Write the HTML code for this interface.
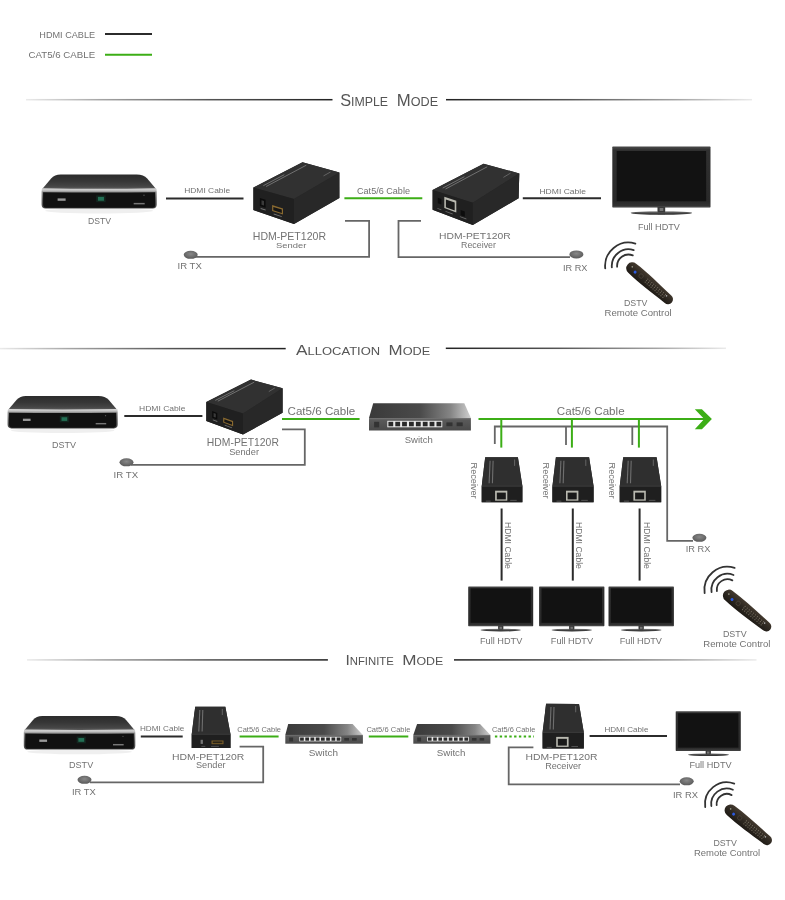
<!DOCTYPE html>
<html><head><meta charset="utf-8"><title>HDMI Extender Modes</title>
<style>html,body{margin:0;padding:0;background:#fff;width:785px;height:900px;overflow:hidden;position:relative;font-family:"Liberation Sans",sans-serif}</style>
</head><body>
<svg width="785" height="900" viewBox="0 0 785 900" style="position:absolute;left:0;top:0;will-change:transform">
<defs>
<linearGradient id="dtop" x1="0" x2="0" y1="0" y2="1"><stop offset="0" stop-color="#2c2c2c"/><stop offset="0.45" stop-color="#363636"/><stop offset="0.8" stop-color="#454545"/><stop offset="1" stop-color="#5e5e5e"/></linearGradient>
<linearGradient id="dband" x1="0" x2="0" y1="0" y2="1"><stop offset="0" stop-color="#d8d8d8"/><stop offset="0.1" stop-color="#c4c4c4"/><stop offset="0.2" stop-color="#8a8a8a"/><stop offset="0.6" stop-color="#5a5a5a"/><stop offset="1" stop-color="#444"/></linearGradient>
<linearGradient id="tvframe" x1="0" x2="0" y1="0" y2="1"><stop offset="0" stop-color="#4a4a4a"/><stop offset="0.06" stop-color="#303030"/><stop offset="0.9" stop-color="#292929"/><stop offset="1" stop-color="#353535"/></linearGradient>
<linearGradient id="tvbase" x1="0" x2="0" y1="0" y2="1"><stop offset="0" stop-color="#9a9a9a"/><stop offset="0.45" stop-color="#4a4a4a"/><stop offset="1" stop-color="#2a2a2a"/></linearGradient>
<linearGradient id="swtop" x1="0" x2="1" y1="0" y2="0"><stop offset="0" stop-color="#3a3a3a"/><stop offset="0.5" stop-color="#4a4a4a"/><stop offset="0.8" stop-color="#858585"/><stop offset="1" stop-color="#cfcfcf"/></linearGradient>
<linearGradient id="swfront" x1="0" x2="0" y1="0" y2="1"><stop offset="0" stop-color="#777"/><stop offset="0.15" stop-color="#5a5a5a"/><stop offset="1" stop-color="#4a4a4a"/></linearGradient>
<radialGradient id="blobg" cx="0.5" cy="0.4" r="0.6"><stop offset="0" stop-color="#888"/><stop offset="1" stop-color="#5a5a5a"/></radialGradient>
<linearGradient id="remg" x1="0" x2="0" y1="0" y2="1"><stop offset="0" stop-color="#453b30"/><stop offset="0.5" stop-color="#2e2821"/><stop offset="1" stop-color="#1e1a15"/></linearGradient>
</defs>
<rect width="785" height="900" fill="#fff"/>
<g font-family='"Liberation Sans", sans-serif'>
<text x="39.3" y="38.3" font-size="8.72" fill="#727272" textLength="55.8" lengthAdjust="spacingAndGlyphs" >HDMI CABLE</text>
<text x="28.6" y="57.8" font-size="9.01" fill="#727272" textLength="66.5" lengthAdjust="spacingAndGlyphs" >CAT5/6 CABLE</text>
<line x1="105.0" y1="34.1" x2="152.0" y2="34.1" stroke="#2b2b2b" stroke-width="2"/>
<line x1="105.0" y1="54.8" x2="152.0" y2="54.8" stroke="#3cae16" stroke-width="2"/>
<linearGradient id="g17" x1="26" x2="332.5" y1="0" y2="0" gradientUnits="userSpaceOnUse"><stop offset="0" stop-color="#333" stop-opacity="0.1"/><stop offset="0.25" stop-color="#333" stop-opacity="0.45"/><stop offset="0.6" stop-color="#2a2a2a" stop-opacity="0.8"/><stop offset="1" stop-color="#222" stop-opacity="1"/></linearGradient>
<rect x="26.0" y="98.95" width="306.5" height="1.5" fill="url(#g17)"/>
<linearGradient id="g19" x1="446" x2="752" y1="0" y2="0" gradientUnits="userSpaceOnUse"><stop offset="0" stop-color="#222" stop-opacity="1"/><stop offset="0.4" stop-color="#2a2a2a" stop-opacity="0.8"/><stop offset="0.75" stop-color="#333" stop-opacity="0.45"/><stop offset="1" stop-color="#333" stop-opacity="0.1"/></linearGradient>
<rect x="446.0" y="98.95" width="306.0" height="1.5" fill="url(#g19)"/>
<text x="340.2" y="105.5" fill="#555555" textLength="47.9" lengthAdjust="spacingAndGlyphs"><tspan font-size="15.99">S</tspan><tspan font-size="12.06">IMPLE</tspan></text>
<text x="396.8" y="105.5" fill="#555555" textLength="41.3" lengthAdjust="spacingAndGlyphs"><tspan font-size="15.99">M</tspan><tspan font-size="12.06">ODE</tspan></text>
<g transform="translate(41.6,174.6) scale(1.0009,1.0000)">
<ellipse cx="57.5" cy="36.2" rx="54" ry="2.6" fill="#efefef"/>
<path d="M19,0 L95,0 Q102,0 105.5,4 L114.6,14.6 L0.4,14.6 L9.5,4 Q13,0 19,0 Z" fill="url(#dtop)"/>
<path d="M0.6,13.6 Q57.5,14.6 114.4,13.6 Q115,14.5 115,17 L115,30 Q115,34 111,34 L4,34 Q0,34 0,30 L0,17 Q0,14.5 0.6,13.6 Z" fill="url(#dband)"/>
<path d="M1.5,17.6 Q57.5,18.3 113.5,17.6 L113.5,30 Q113.5,33.2 110.5,33.2 L4.5,33.2 Q1.5,33.2 1.5,30 Z" fill="#111"/>
<rect x="54.5" y="20.8" width="9.5" height="6.8" fill="#13261f"/>
<rect x="56.3" y="22.3" width="6" height="3.8" fill="#2a8a68" opacity="0.75"/>
<rect x="16" y="23.8" width="8" height="2.4" fill="#9a9a9a"/>
<rect x="92" y="28.3" width="11" height="1.5" fill="#777"/>
<circle cx="102.3" cy="20.6" r="0.7" fill="#555"/>
</g>
<text x="88.0" y="224.0" font-size="9.45" fill="#727272" textLength="23.0" lengthAdjust="spacingAndGlyphs" >DSTV</text>
<line x1="166.0" y1="198.6" x2="243.5" y2="198.6" stroke="#2b2b2b" stroke-width="2"/>
<text x="184.2" y="193.4" font-size="7.70" fill="#727272" textLength="45.9" lengthAdjust="spacingAndGlyphs" >HDMI Cable</text>
<polygon points="253.4,187.6 302.5,162.2 339.4,172.5 339.4,198.0 294.0,224.0 253.4,210.0" fill="#262626" />
<polygon points="253.4,187.6 302.5,162.2 339.4,172.5 294.0,199.0" fill="#313131" />
<polygon points="253.4,187.6 294.0,199.0 294.0,224.0 253.4,210.0" fill="#202020" />
<polygon points="294.0,199.0 339.4,172.5 339.4,198.0 294.0,224.0" fill="#282828" />
<line x1="263.3" y1="185.7" x2="284.3" y2="174.7" stroke="#8a8a8a" stroke-width="0.9" opacity="0.8"/>
<line x1="266.1" y1="186.5" x2="306.3" y2="165.2" stroke="#8a8a8a" stroke-width="0.9" opacity="0.8"/>
<line x1="323.5" y1="175.9" x2="330.5" y2="172.0" stroke="#777" stroke-width="0.9" opacity="0.8"/>
<polygon points="259.9,198.1 265.6,199.8 265.6,207.7 259.9,205.9" fill="#0b0b0b" />
<polygon points="261.5,200.2 264.0,200.9 264.0,205.6 261.5,204.8" fill="#3a3a3a" />
<polygon points="272.1,205.1 283.0,208.6 283.0,214.6 272.1,211.0" fill="#8a6a30" />
<polygon points="273.3,206.9 281.8,209.6 281.8,213.0 273.3,210.2" fill="#151515" />
<polygon points="260.7,207.9 265.6,209.6 265.6,210.5 260.7,208.9" fill="#777" />
<polygon points="273.7,213.4 281.8,216.2 281.8,217.1 273.7,214.4" fill="#777" />
<text x="252.8" y="239.8" font-size="10.17" fill="#727272" textLength="73.2" lengthAdjust="spacingAndGlyphs" >HDM-PET120R</text>
<text x="276.0" y="248.4" font-size="7.85" fill="#727272" textLength="30.3" lengthAdjust="spacingAndGlyphs" >Sender</text>
<line x1="344.4" y1="198.3" x2="422.3" y2="198.3" stroke="#3cae16" stroke-width="2"/>
<text x="357.0" y="194.0" font-size="8.14" fill="#727272" textLength="53.0" lengthAdjust="spacingAndGlyphs" >Cat5/6 Cable</text>
<polygon points="432.6,190.0 483.6,163.8 519.3,173.4 518.6,198.2 472.8,225.0 432.6,209.7" fill="#262626" />
<polygon points="432.6,190.0 483.6,163.8 519.3,173.4 472.8,202.7" fill="#313131" />
<polygon points="432.6,190.0 472.8,202.7 472.8,225.0 432.6,209.7" fill="#202020" />
<polygon points="472.8,202.7 519.3,173.4 518.6,198.2 472.8,225.0" fill="#282828" />
<line x1="442.7" y1="188.1" x2="464.4" y2="176.7" stroke="#8a8a8a" stroke-width="0.9" opacity="0.8"/>
<line x1="445.5" y1="189.0" x2="487.2" y2="166.8" stroke="#8a8a8a" stroke-width="0.9" opacity="0.8"/>
<line x1="503.4" y1="177.4" x2="510.5" y2="173.1" stroke="#777" stroke-width="0.9" opacity="0.8"/>
<polygon points="444.3,196.8 456.3,200.7 456.3,212.4 444.3,208.0" fill="#b9b9b0" />
<polygon points="445.9,199.5 454.7,202.5 454.7,210.5 445.9,207.3" fill="#1a1a1a" />
<polygon points="437.8,197.7 441.4,198.9 441.4,204.6 437.8,203.3" fill="#0d0d0d" />
<polygon points="460.7,210.1 464.8,211.5 464.8,216.7 460.7,215.2" fill="#0d0d0d" />
<polygon points="437.4,207.9 441.4,209.4 441.4,210.2 437.4,208.7" fill="#6a6a6a" />
<polygon points="445.5,210.9 452.7,213.6 452.7,214.4 445.5,211.7" fill="#6a6a6a" />
<polygon points="459.9,216.2 466.4,218.6 466.4,219.5 459.9,217.1" fill="#6a6a6a" />
<text x="439.0" y="238.7" font-size="9.59" fill="#727272" textLength="71.7" lengthAdjust="spacingAndGlyphs" >HDM-PET120R</text>
<text x="461.0" y="248.0" font-size="8.14" fill="#727272" textLength="35.0" lengthAdjust="spacingAndGlyphs" >Receiver</text>
<line x1="522.8" y1="198.3" x2="601.0" y2="198.3" stroke="#2b2b2b" stroke-width="2"/>
<text x="539.4" y="193.5" font-size="7.99" fill="#727272" textLength="46.6" lengthAdjust="spacingAndGlyphs" >HDMI Cable</text>
<rect x="612.3" y="146.6" width="98.2" height="60.8" fill="url(#tvframe)" rx="0.6"/>
<rect x="616.7" y="151.0" width="89.4" height="50.2" fill="#121212"/>
<rect x="613.3" y="206.3" width="96.2" height="0.7" fill="#555" opacity="0.7"/>
<rect x="657.7" y="206.9" width="7.4" height="7.4" fill="#3a3a3a"/>
<ellipse cx="661.4" cy="213.0" rx="30.8" ry="1.8" fill="url(#tvbase)"/>
<rect x="657.7" y="206.9" width="7.4" height="5.6" fill="#3a3a3a"/>
<rect x="659.6" y="208.0" width="3.7" height="3.0" fill="#777"/>
<text x="637.9" y="229.6" font-size="8.14" fill="#727272" textLength="42.0" lengthAdjust="spacingAndGlyphs" >Full HDTV</text>
<path d="M345,220.8 L369.1,220.8 L369.1,256.8 L195,256.8" stroke="#666666" stroke-width="1.8" fill="none" stroke-linejoin="miter"/>
<ellipse cx="190.7" cy="254.8" rx="7" ry="4" fill="url(#blobg)"/>
<text x="177.5" y="269.4" font-size="9.30" fill="#727272" textLength="24.3" lengthAdjust="spacingAndGlyphs" >IR TX</text>
<path d="M421,220.8 L398.5,220.8 L398.5,257.1 L570,257.1" stroke="#666666" stroke-width="1.8" fill="none" stroke-linejoin="miter"/>
<ellipse cx="576.4" cy="254.4" rx="7" ry="4" fill="url(#blobg)"/>
<text x="563.0" y="270.8" font-size="9.01" fill="#727272" textLength="24.5" lengthAdjust="spacingAndGlyphs" >IR RX</text>
<path d="M605.23,268.45 A23.4,23.4 0 0 1 635.34,243.62" stroke="#333" stroke-width="1.8" fill="none" stroke-linecap="round"/>
<path d="M611.86,267.46 A16.7,16.7 0 0 1 633.66,250.12" stroke="#333" stroke-width="1.8" fill="none" stroke-linecap="round"/>
<path d="M617.13,266.80 A11.4,11.4 0 0 1 632.77,255.43" stroke="#333" stroke-width="1.8" fill="none" stroke-linecap="round"/>
<g transform="translate(632.2,268.3) rotate(40.80)">
<path d="M0,-6.00 C14.2,-6.90 30.7,-5.60 47.3,-5.00 A5.00,5.00 0 0 1 47.3,5.00 C30.7,5.60 14.2,6.90 0,6.00 A6.00,6.00 0 0 1 0,-6.00 Z" fill="url(#remg)"/>
<circle cx="4.7" cy="1.0" r="1.5" fill="#2b5ae0"/>
<circle cx="-0.9" cy="-1.2" r="0.8" fill="#9a9a8a"/>
<circle cx="11.8" cy="0" r="2.2" fill="none" stroke="#4a4238" stroke-width="0.8"/>
<circle cx="18.9" cy="-2.0" r="0.6" fill="#7a7264" opacity="0.9"/>
<circle cx="18.9" cy="0.0" r="0.6" fill="#7a7264" opacity="0.9"/>
<circle cx="18.9" cy="2.0" r="0.6" fill="#7a7264" opacity="0.9"/>
<circle cx="21.5" cy="-2.0" r="0.6" fill="#7a7264" opacity="0.9"/>
<circle cx="21.5" cy="0.0" r="0.6" fill="#7a7264" opacity="0.9"/>
<circle cx="21.5" cy="2.0" r="0.6" fill="#7a7264" opacity="0.9"/>
<circle cx="24.1" cy="-2.0" r="0.6" fill="#7a7264" opacity="0.9"/>
<circle cx="24.1" cy="0.0" r="0.6" fill="#7a7264" opacity="0.9"/>
<circle cx="24.1" cy="2.0" r="0.6" fill="#7a7264" opacity="0.9"/>
<circle cx="26.7" cy="-2.0" r="0.6" fill="#7a7264" opacity="0.9"/>
<circle cx="26.7" cy="0.0" r="0.6" fill="#7a7264" opacity="0.9"/>
<circle cx="26.7" cy="2.0" r="0.6" fill="#7a7264" opacity="0.9"/>
<circle cx="29.3" cy="-2.0" r="0.6" fill="#7a7264" opacity="0.9"/>
<circle cx="29.3" cy="0.0" r="0.6" fill="#7a7264" opacity="0.9"/>
<circle cx="29.3" cy="2.0" r="0.6" fill="#7a7264" opacity="0.9"/>
<circle cx="31.9" cy="-2.0" r="0.6" fill="#7a7264" opacity="0.9"/>
<circle cx="31.9" cy="0.0" r="0.6" fill="#7a7264" opacity="0.9"/>
<circle cx="31.9" cy="2.0" r="0.6" fill="#7a7264" opacity="0.9"/>
<circle cx="34.5" cy="-2.0" r="0.6" fill="#7a7264" opacity="0.9"/>
<circle cx="34.5" cy="0.0" r="0.6" fill="#7a7264" opacity="0.9"/>
<circle cx="34.5" cy="2.0" r="0.6" fill="#7a7264" opacity="0.9"/>
<circle cx="37.1" cy="-2.0" r="0.6" fill="#7a7264" opacity="0.9"/>
<circle cx="37.1" cy="0.0" r="0.6" fill="#7a7264" opacity="0.9"/>
<circle cx="37.1" cy="2.0" r="0.6" fill="#7a7264" opacity="0.9"/>
<circle cx="39.7" cy="-2.0" r="0.6" fill="#7a7264" opacity="0.9"/>
<circle cx="39.7" cy="0.0" r="0.6" fill="#7a7264" opacity="0.9"/>
<circle cx="39.7" cy="2.0" r="0.6" fill="#7a7264" opacity="0.9"/>
<circle cx="42.3" cy="-2.0" r="0.6" fill="#7a7264" opacity="0.9"/>
<circle cx="42.3" cy="0.0" r="0.6" fill="#7a7264" opacity="0.9"/>
<circle cx="42.3" cy="2.0" r="0.6" fill="#7a7264" opacity="0.9"/>
<circle cx="44.0" cy="-1.6" r="0.8" fill="#aaa"/>
</g>
<text x="624.0" y="306.4" font-size="9.01" fill="#727272" textLength="23.5" lengthAdjust="spacingAndGlyphs" >DSTV</text>
<text x="604.5" y="316.0" font-size="8.43" fill="#727272" textLength="67.1" lengthAdjust="spacingAndGlyphs" >Remote Control</text>
<linearGradient id="g128" x1="0" x2="285.7" y1="0" y2="0" gradientUnits="userSpaceOnUse"><stop offset="0" stop-color="#333" stop-opacity="0.1"/><stop offset="0.25" stop-color="#333" stop-opacity="0.45"/><stop offset="0.6" stop-color="#2a2a2a" stop-opacity="0.8"/><stop offset="1" stop-color="#222" stop-opacity="1"/></linearGradient>
<rect x="0.0" y="347.85" width="285.7" height="1.5" fill="url(#g128)"/>
<linearGradient id="g130" x1="445.8" x2="726" y1="0" y2="0" gradientUnits="userSpaceOnUse"><stop offset="0" stop-color="#222" stop-opacity="1"/><stop offset="0.4" stop-color="#2a2a2a" stop-opacity="0.8"/><stop offset="0.75" stop-color="#333" stop-opacity="0.45"/><stop offset="1" stop-color="#333" stop-opacity="0.1"/></linearGradient>
<rect x="445.8" y="347.55" width="280.2" height="1.5" fill="url(#g130)"/>
<text x="296.1" y="354.9" fill="#555555" textLength="84.1" lengthAdjust="spacingAndGlyphs"><tspan font-size="15.26">A</tspan><tspan font-size="11.48">LLOCATION</tspan></text>
<text x="388.6" y="354.9" fill="#555555" textLength="41.7" lengthAdjust="spacingAndGlyphs"><tspan font-size="15.26">M</tspan><tspan font-size="11.48">ODE</tspan></text>
<g transform="translate(7.6,396.0) scale(0.9574,0.9529)">
<ellipse cx="57.5" cy="36.2" rx="54" ry="2.6" fill="#efefef"/>
<path d="M19,0 L95,0 Q102,0 105.5,4 L114.6,14.6 L0.4,14.6 L9.5,4 Q13,0 19,0 Z" fill="url(#dtop)"/>
<path d="M0.6,13.6 Q57.5,14.6 114.4,13.6 Q115,14.5 115,17 L115,30 Q115,34 111,34 L4,34 Q0,34 0,30 L0,17 Q0,14.5 0.6,13.6 Z" fill="url(#dband)"/>
<path d="M1.5,17.6 Q57.5,18.3 113.5,17.6 L113.5,30 Q113.5,33.2 110.5,33.2 L4.5,33.2 Q1.5,33.2 1.5,30 Z" fill="#111"/>
<rect x="54.5" y="20.8" width="9.5" height="6.8" fill="#13261f"/>
<rect x="56.3" y="22.3" width="6" height="3.8" fill="#2a8a68" opacity="0.75"/>
<rect x="16" y="23.8" width="8" height="2.4" fill="#9a9a9a"/>
<rect x="92" y="28.3" width="11" height="1.5" fill="#777"/>
<circle cx="102.3" cy="20.6" r="0.7" fill="#555"/>
</g>
<text x="52.0" y="447.5" font-size="9.16" fill="#727272" textLength="24.0" lengthAdjust="spacingAndGlyphs" >DSTV</text>
<line x1="124.3" y1="416.0" x2="202.4" y2="416.0" stroke="#2b2b2b" stroke-width="2"/>
<text x="139.0" y="411.0" font-size="7.99" fill="#727272" textLength="46.5" lengthAdjust="spacingAndGlyphs" >HDMI Cable</text>
<polygon points="206.3,402.0 251.0,379.6 282.6,388.2 282.6,412.8 243.0,434.6 206.3,420.9" fill="#262626" />
<polygon points="206.3,402.0 251.0,379.6 282.6,388.2 243.0,413.4" fill="#313131" />
<polygon points="206.3,402.0 243.0,413.4 243.0,434.6 206.3,420.9" fill="#202020" />
<polygon points="243.0,413.4 282.6,388.2 282.6,412.8 243.0,434.6" fill="#282828" />
<line x1="215.3" y1="400.4" x2="234.3" y2="390.7" stroke="#8a8a8a" stroke-width="0.9" opacity="0.8"/>
<line x1="217.8" y1="401.2" x2="254.2" y2="382.2" stroke="#8a8a8a" stroke-width="0.9" opacity="0.8"/>
<line x1="268.8" y1="391.6" x2="274.9" y2="387.9" stroke="#777" stroke-width="0.9" opacity="0.8"/>
<polygon points="212.2,411.1 217.3,412.9 217.3,419.5 212.2,417.7" fill="#0b0b0b" />
<polygon points="213.6,413.0 215.8,413.7 215.8,417.6 213.6,416.9" fill="#3a3a3a" />
<polygon points="223.2,417.6 233.1,421.0 233.1,426.2 223.2,422.6" fill="#8a6a30" />
<polygon points="224.3,419.2 232.0,421.9 232.0,424.7 224.3,422.0" fill="#151515" />
<polygon points="212.9,419.5 217.3,421.1 217.3,421.9 212.9,420.3" fill="#777" />
<polygon points="224.7,424.7 232.0,427.4 232.0,428.2 224.7,425.5" fill="#777" />
<text x="206.8" y="445.7" font-size="10.03" fill="#727272" textLength="72.1" lengthAdjust="spacingAndGlyphs" >HDM-PET120R</text>
<text x="229.2" y="454.6" font-size="8.43" fill="#727272" textLength="29.8" lengthAdjust="spacingAndGlyphs" >Sender</text>
<line x1="282.0" y1="419.0" x2="359.6" y2="419.0" stroke="#3cae16" stroke-width="2"/>
<text x="287.5" y="414.6" font-size="10.03" fill="#727272" textLength="67.8" lengthAdjust="spacingAndGlyphs" >Cat5/6 Cable</text>
<path d="M282,429.4 L304.8,429.4 L304.8,464.8 L131,464.8" stroke="#666666" stroke-width="1.8" fill="none" stroke-linejoin="miter"/>
<ellipse cx="126.5" cy="462.3" rx="7" ry="4" fill="url(#blobg)"/>
<text x="113.6" y="477.5" font-size="9.30" fill="#727272" textLength="24.6" lengthAdjust="spacingAndGlyphs" >IR TX</text>
<polygon points="373.2,403.2 464.3,403.2 470.9,418.0 369.0,418.0" fill="url(#swtop)"/>
<rect x="369.0" y="418.0" width="101.9" height="12.5" fill="url(#swfront)"/>
<rect x="387.3" y="420.8" width="55.0" height="6.5" fill="#e8e8e8"/>
<rect x="388.4" y="421.8" width="4.8" height="4.5" fill="#2a2a2a"/>
<rect x="395.3" y="421.8" width="4.8" height="4.5" fill="#2a2a2a"/>
<rect x="402.1" y="421.8" width="4.8" height="4.5" fill="#2a2a2a"/>
<rect x="409.0" y="421.8" width="4.8" height="4.5" fill="#2a2a2a"/>
<rect x="415.9" y="421.8" width="4.8" height="4.5" fill="#2a2a2a"/>
<rect x="422.8" y="421.8" width="4.8" height="4.5" fill="#2a2a2a"/>
<rect x="429.6" y="421.8" width="4.8" height="4.5" fill="#2a2a2a"/>
<rect x="436.5" y="421.8" width="4.8" height="4.5" fill="#2a2a2a"/>
<rect x="446.4" y="422.4" width="6.1" height="3.8" fill="#333"/>
<rect x="456.6" y="422.4" width="6.1" height="3.8" fill="#333"/>
<rect x="374.1" y="421.8" width="5.1" height="5.6" fill="#333"/>
<text x="404.7" y="443.0" font-size="9.01" fill="#727272" textLength="28.1" lengthAdjust="spacingAndGlyphs" >Switch</text>
<line x1="478.5" y1="418.9" x2="705.0" y2="418.9" stroke="#3cae16" stroke-width="2"/>
<polygon points="694.8,409.2 701.9,409.2 711.9,419.1 701.9,429.3 694.8,429.3 704.2,419.1" fill="#3cae16" />
<text x="556.8" y="414.9" font-size="10.32" fill="#727272" textLength="67.8" lengthAdjust="spacingAndGlyphs" >Cat5/6 Cable</text>
<path d="M494.8,444 L494.8,426.5 L667.2,426.5 L667.2,540.8 L693,540.8" stroke="#666666" stroke-width="1.8" fill="none" stroke-linejoin="miter"/>
<line x1="566.0" y1="426.5" x2="566.0" y2="445.0" stroke="#666666" stroke-width="1.8"/>
<line x1="632.3" y1="426.5" x2="632.3" y2="445.0" stroke="#666666" stroke-width="1.8"/>
<ellipse cx="699.4" cy="537.8" rx="7" ry="4" fill="url(#blobg)"/>
<text x="685.8" y="552.3" font-size="8.58" fill="#727272" textLength="24.7" lengthAdjust="spacingAndGlyphs" >IR RX</text>
<line x1="501.3" y1="418.9" x2="501.3" y2="447.6" stroke="#3cae16" stroke-width="2"/>
<line x1="571.9" y1="418.9" x2="571.9" y2="447.6" stroke="#3cae16" stroke-width="2"/>
<line x1="638.9" y1="418.9" x2="638.9" y2="447.6" stroke="#3cae16" stroke-width="2"/>
<polygon points="485.2,457.2 517.9,457.2 522.4,486.2 522.4,502.3 481.7,502.3 481.7,486.2" fill="#262626" />
<polygon points="485.2,457.2 517.9,457.2 522.4,486.2 481.7,486.2" fill="#2f2f2f" />
<polygon points="481.7,486.5 522.4,486.5 522.4,502.3 481.7,502.3" fill="#1f1f1f" />
<line x1="481.7" y1="486.2" x2="522.4" y2="486.2" stroke="#4a4a4a" stroke-width="0.6"/>
<line x1="490.1" y1="460.7" x2="489.1" y2="483.3" stroke="#8a8a8a" stroke-width="1.1" opacity="0.7"/>
<line x1="493.1" y1="460.7" x2="492.4" y2="483.3" stroke="#8a8a8a" stroke-width="1.1" opacity="0.7"/>
<line x1="514.6" y1="459.5" x2="514.6" y2="465.9" stroke="#888" stroke-width="1" opacity="0.6"/>
<rect x="495.1" y="490.7" width="12.2" height="10.0" fill="#b9b9b0"/>
<rect x="496.8" y="492.6" width="9.0" height="6.8" fill="#1a1a1a"/>
<rect x="485.8" y="500.7" width="4.9" height="0.8" fill="#888" opacity="0.6"/>
<rect x="510.2" y="499.9" width="6.5" height="0.8" fill="#888" opacity="0.6"/>
<text transform="translate(470.8,462.6) rotate(90)" x="0" y="0" font-size="8.72" fill="#727272" textLength="36.0" lengthAdjust="spacingAndGlyphs">Receiver</text>
<polygon points="555.9,457.2 589.1,457.2 593.6,486.2 593.6,502.3 552.4,502.3 552.4,486.2" fill="#262626" />
<polygon points="555.9,457.2 589.1,457.2 593.6,486.2 552.4,486.2" fill="#2f2f2f" />
<polygon points="552.4,486.5 593.6,486.5 593.6,502.3 552.4,502.3" fill="#1f1f1f" />
<line x1="552.4" y1="486.2" x2="593.6" y2="486.2" stroke="#4a4a4a" stroke-width="0.6"/>
<line x1="560.9" y1="460.7" x2="559.9" y2="483.3" stroke="#8a8a8a" stroke-width="1.1" opacity="0.7"/>
<line x1="563.9" y1="460.7" x2="563.2" y2="483.3" stroke="#8a8a8a" stroke-width="1.1" opacity="0.7"/>
<line x1="585.8" y1="459.5" x2="585.8" y2="465.9" stroke="#888" stroke-width="1" opacity="0.6"/>
<rect x="566.0" y="490.7" width="12.4" height="10.0" fill="#b9b9b0"/>
<rect x="567.6" y="492.6" width="9.1" height="6.8" fill="#1a1a1a"/>
<rect x="556.5" y="500.7" width="4.9" height="0.8" fill="#888" opacity="0.6"/>
<rect x="581.2" y="499.9" width="6.6" height="0.8" fill="#888" opacity="0.6"/>
<text transform="translate(542.9,462.6) rotate(90)" x="0" y="0" font-size="8.72" fill="#727272" textLength="36.0" lengthAdjust="spacingAndGlyphs">Receiver</text>
<polygon points="623.2,457.2 656.6,457.2 661.2,486.2 661.2,502.3 619.7,502.3 619.7,486.2" fill="#262626" />
<polygon points="623.2,457.2 656.6,457.2 661.2,486.2 619.7,486.2" fill="#2f2f2f" />
<polygon points="619.7,486.5 661.2,486.5 661.2,502.3 619.7,502.3" fill="#1f1f1f" />
<line x1="619.7" y1="486.2" x2="661.2" y2="486.2" stroke="#4a4a4a" stroke-width="0.6"/>
<line x1="628.2" y1="460.7" x2="627.2" y2="483.3" stroke="#8a8a8a" stroke-width="1.1" opacity="0.7"/>
<line x1="631.2" y1="460.7" x2="630.5" y2="483.3" stroke="#8a8a8a" stroke-width="1.1" opacity="0.7"/>
<line x1="653.3" y1="459.5" x2="653.3" y2="465.9" stroke="#888" stroke-width="1" opacity="0.6"/>
<rect x="633.4" y="490.7" width="12.4" height="10.0" fill="#b9b9b0"/>
<rect x="635.1" y="492.6" width="9.1" height="6.8" fill="#1a1a1a"/>
<rect x="623.9" y="500.7" width="5.0" height="0.8" fill="#888" opacity="0.6"/>
<rect x="648.8" y="499.9" width="6.6" height="0.8" fill="#888" opacity="0.6"/>
<text transform="translate(609.3,462.6) rotate(90)" x="0" y="0" font-size="8.72" fill="#727272" textLength="36.0" lengthAdjust="spacingAndGlyphs">Receiver</text>
<line x1="501.6" y1="508.5" x2="501.6" y2="580.6" stroke="#2b2b2b" stroke-width="2"/>
<text transform="translate(504.6,522.0) rotate(90)" x="0" y="0" font-size="8.43" fill="#727272" textLength="46.9" lengthAdjust="spacingAndGlyphs">HDMI Cable</text>
<line x1="572.8" y1="508.5" x2="572.8" y2="580.6" stroke="#2b2b2b" stroke-width="2"/>
<text transform="translate(576.4,522.0) rotate(90)" x="0" y="0" font-size="8.43" fill="#727272" textLength="46.9" lengthAdjust="spacingAndGlyphs">HDMI Cable</text>
<line x1="639.6" y1="508.5" x2="639.6" y2="580.6" stroke="#2b2b2b" stroke-width="2"/>
<text transform="translate(643.9,522.0) rotate(90)" x="0" y="0" font-size="8.43" fill="#727272" textLength="46.9" lengthAdjust="spacingAndGlyphs">HDMI Cable</text>
<rect x="468.2" y="586.4" width="65.0" height="39.8" fill="url(#tvframe)" rx="0.6"/>
<rect x="470.6" y="588.4" width="60.2" height="34.4" fill="#121212"/>
<rect x="469.2" y="625.1" width="63.0" height="0.7" fill="#555" opacity="0.7"/>
<rect x="498.3" y="625.7" width="4.9" height="5.3" fill="#3a3a3a"/>
<ellipse cx="500.7" cy="630.1" rx="20.2" ry="1.4" fill="url(#tvbase)"/>
<rect x="498.3" y="625.7" width="4.9" height="4.0" fill="#3a3a3a"/>
<rect x="499.5" y="626.8" width="2.4" height="2.1" fill="#777"/>
<text x="480.0" y="643.6" font-size="9.30" fill="#727272" textLength="42.3" lengthAdjust="spacingAndGlyphs" >Full HDTV</text>
<rect x="539.1" y="586.4" width="65.3" height="39.8" fill="url(#tvframe)" rx="0.6"/>
<rect x="541.5" y="588.4" width="60.5" height="34.4" fill="#121212"/>
<rect x="540.1" y="625.1" width="63.3" height="0.7" fill="#555" opacity="0.7"/>
<rect x="569.3" y="625.7" width="4.9" height="5.3" fill="#3a3a3a"/>
<ellipse cx="571.8" cy="630.1" rx="20.2" ry="1.4" fill="url(#tvbase)"/>
<rect x="569.3" y="625.7" width="4.9" height="4.0" fill="#3a3a3a"/>
<rect x="570.5" y="626.8" width="2.4" height="2.1" fill="#777"/>
<text x="550.8" y="643.6" font-size="9.30" fill="#727272" textLength="42.3" lengthAdjust="spacingAndGlyphs" >Full HDTV</text>
<rect x="608.5" y="586.4" width="65.4" height="39.8" fill="url(#tvframe)" rx="0.6"/>
<rect x="610.9" y="588.4" width="60.6" height="34.4" fill="#121212"/>
<rect x="609.5" y="625.1" width="63.4" height="0.7" fill="#555" opacity="0.7"/>
<rect x="638.7" y="625.7" width="4.9" height="5.3" fill="#3a3a3a"/>
<ellipse cx="641.2" cy="630.1" rx="20.3" ry="1.4" fill="url(#tvbase)"/>
<rect x="638.7" y="625.7" width="4.9" height="4.0" fill="#3a3a3a"/>
<rect x="640.0" y="626.8" width="2.5" height="2.1" fill="#777"/>
<text x="619.7" y="643.6" font-size="9.30" fill="#727272" textLength="42.3" lengthAdjust="spacingAndGlyphs" >Full HDTV</text>
<path d="M704.62,593.11 A23.1,23.1 0 0 1 734.64,567.93" stroke="#333" stroke-width="1.8" fill="none" stroke-linecap="round"/>
<path d="M711.56,592.14 A16.1,16.1 0 0 1 733.53,574.97" stroke="#333" stroke-width="1.8" fill="none" stroke-linecap="round"/>
<path d="M716.88,591.20 A10.7,10.7 0 0 1 732.36,580.37" stroke="#333" stroke-width="1.8" fill="none" stroke-linecap="round"/>
<g transform="translate(728.9,595.6) rotate(39.56)">
<path d="M0,-6.00 C14.6,-6.90 31.5,-5.60 48.5,-5.00 A5.00,5.00 0 0 1 48.5,5.00 C31.5,5.60 14.6,6.90 0,6.00 A6.00,6.00 0 0 1 0,-6.00 Z" fill="url(#remg)"/>
<circle cx="4.9" cy="1.0" r="1.5" fill="#2b5ae0"/>
<circle cx="-1.0" cy="-1.2" r="0.8" fill="#9a9a8a"/>
<circle cx="12.1" cy="0" r="2.2" fill="none" stroke="#4a4238" stroke-width="0.8"/>
<circle cx="19.4" cy="-2.0" r="0.6" fill="#7a7264" opacity="0.9"/>
<circle cx="19.4" cy="0.0" r="0.6" fill="#7a7264" opacity="0.9"/>
<circle cx="19.4" cy="2.0" r="0.6" fill="#7a7264" opacity="0.9"/>
<circle cx="22.1" cy="-2.0" r="0.6" fill="#7a7264" opacity="0.9"/>
<circle cx="22.1" cy="0.0" r="0.6" fill="#7a7264" opacity="0.9"/>
<circle cx="22.1" cy="2.0" r="0.6" fill="#7a7264" opacity="0.9"/>
<circle cx="24.7" cy="-2.0" r="0.6" fill="#7a7264" opacity="0.9"/>
<circle cx="24.7" cy="0.0" r="0.6" fill="#7a7264" opacity="0.9"/>
<circle cx="24.7" cy="2.0" r="0.6" fill="#7a7264" opacity="0.9"/>
<circle cx="27.4" cy="-2.0" r="0.6" fill="#7a7264" opacity="0.9"/>
<circle cx="27.4" cy="0.0" r="0.6" fill="#7a7264" opacity="0.9"/>
<circle cx="27.4" cy="2.0" r="0.6" fill="#7a7264" opacity="0.9"/>
<circle cx="30.1" cy="-2.0" r="0.6" fill="#7a7264" opacity="0.9"/>
<circle cx="30.1" cy="0.0" r="0.6" fill="#7a7264" opacity="0.9"/>
<circle cx="30.1" cy="2.0" r="0.6" fill="#7a7264" opacity="0.9"/>
<circle cx="32.7" cy="-2.0" r="0.6" fill="#7a7264" opacity="0.9"/>
<circle cx="32.7" cy="0.0" r="0.6" fill="#7a7264" opacity="0.9"/>
<circle cx="32.7" cy="2.0" r="0.6" fill="#7a7264" opacity="0.9"/>
<circle cx="35.4" cy="-2.0" r="0.6" fill="#7a7264" opacity="0.9"/>
<circle cx="35.4" cy="0.0" r="0.6" fill="#7a7264" opacity="0.9"/>
<circle cx="35.4" cy="2.0" r="0.6" fill="#7a7264" opacity="0.9"/>
<circle cx="38.1" cy="-2.0" r="0.6" fill="#7a7264" opacity="0.9"/>
<circle cx="38.1" cy="0.0" r="0.6" fill="#7a7264" opacity="0.9"/>
<circle cx="38.1" cy="2.0" r="0.6" fill="#7a7264" opacity="0.9"/>
<circle cx="40.8" cy="-2.0" r="0.6" fill="#7a7264" opacity="0.9"/>
<circle cx="40.8" cy="0.0" r="0.6" fill="#7a7264" opacity="0.9"/>
<circle cx="40.8" cy="2.0" r="0.6" fill="#7a7264" opacity="0.9"/>
<circle cx="43.4" cy="-2.0" r="0.6" fill="#7a7264" opacity="0.9"/>
<circle cx="43.4" cy="0.0" r="0.6" fill="#7a7264" opacity="0.9"/>
<circle cx="43.4" cy="2.0" r="0.6" fill="#7a7264" opacity="0.9"/>
<circle cx="45.1" cy="-1.6" r="0.8" fill="#aaa"/>
</g>
<text x="722.9" y="636.8" font-size="8.14" fill="#727272" textLength="23.7" lengthAdjust="spacingAndGlyphs" >DSTV</text>
<text x="703.3" y="646.5" font-size="8.28" fill="#727272" textLength="67.2" lengthAdjust="spacingAndGlyphs" >Remote Control</text>
<linearGradient id="g302" x1="27" x2="327.9" y1="0" y2="0" gradientUnits="userSpaceOnUse"><stop offset="0" stop-color="#333" stop-opacity="0.1"/><stop offset="0.25" stop-color="#333" stop-opacity="0.45"/><stop offset="0.6" stop-color="#2a2a2a" stop-opacity="0.8"/><stop offset="1" stop-color="#222" stop-opacity="1"/></linearGradient>
<rect x="27.0" y="659.15" width="300.9" height="1.5" fill="url(#g302)"/>
<linearGradient id="g304" x1="454" x2="756.5" y1="0" y2="0" gradientUnits="userSpaceOnUse"><stop offset="0" stop-color="#222" stop-opacity="1"/><stop offset="0.4" stop-color="#2a2a2a" stop-opacity="0.8"/><stop offset="0.75" stop-color="#333" stop-opacity="0.45"/><stop offset="1" stop-color="#333" stop-opacity="0.1"/></linearGradient>
<rect x="454.0" y="659.15" width="302.5" height="1.5" fill="url(#g304)"/>
<text x="345.4" y="664.6" fill="#555555" textLength="48.5" lengthAdjust="spacingAndGlyphs"><tspan font-size="15.26">I</tspan><tspan font-size="11.05">NFINITE</tspan></text>
<text x="402.2" y="664.6" fill="#555555" textLength="41.1" lengthAdjust="spacingAndGlyphs"><tspan font-size="15.26">M</tspan><tspan font-size="11.05">ODE</tspan></text>
<g transform="translate(23.8,716.0) scale(0.9696,0.9882)">
<ellipse cx="57.5" cy="36.2" rx="54" ry="2.6" fill="#efefef"/>
<path d="M19,0 L95,0 Q102,0 105.5,4 L114.6,14.6 L0.4,14.6 L9.5,4 Q13,0 19,0 Z" fill="url(#dtop)"/>
<path d="M0.6,13.6 Q57.5,14.6 114.4,13.6 Q115,14.5 115,17 L115,30 Q115,34 111,34 L4,34 Q0,34 0,30 L0,17 Q0,14.5 0.6,13.6 Z" fill="url(#dband)"/>
<path d="M1.5,17.6 Q57.5,18.3 113.5,17.6 L113.5,30 Q113.5,33.2 110.5,33.2 L4.5,33.2 Q1.5,33.2 1.5,30 Z" fill="#111"/>
<rect x="54.5" y="20.8" width="9.5" height="6.8" fill="#13261f"/>
<rect x="56.3" y="22.3" width="6" height="3.8" fill="#2a8a68" opacity="0.75"/>
<rect x="16" y="23.8" width="8" height="2.4" fill="#9a9a9a"/>
<rect x="92" y="28.3" width="11" height="1.5" fill="#777"/>
<circle cx="102.3" cy="20.6" r="0.7" fill="#555"/>
</g>
<text x="69.0" y="768.0" font-size="8.14" fill="#727272" textLength="24.2" lengthAdjust="spacingAndGlyphs" >DSTV</text>
<line x1="140.8" y1="736.5" x2="182.7" y2="736.5" stroke="#2b2b2b" stroke-width="2"/>
<text x="140.0" y="730.7" font-size="7.99" fill="#727272" textLength="44.3" lengthAdjust="spacingAndGlyphs" >HDMI Cable</text>
<polygon points="195.2,706.7 225.3,706.7 230.5,734.3 230.5,748.0 191.7,748.0 191.7,734.3" fill="#262626" />
<polygon points="195.2,706.7 225.3,706.7 230.5,734.3 191.7,734.3" fill="#2f2f2f" />
<polygon points="191.7,734.6 230.5,734.6 230.5,748.0 191.7,748.0" fill="#1f1f1f" />
<line x1="191.7" y1="734.3" x2="230.5" y2="734.3" stroke="#4a4a4a" stroke-width="0.6"/>
<line x1="199.8" y1="710.0" x2="198.8" y2="731.5" stroke="#8a8a8a" stroke-width="1.1" opacity="0.7"/>
<line x1="202.8" y1="710.0" x2="202.1" y2="731.5" stroke="#8a8a8a" stroke-width="1.1" opacity="0.7"/>
<line x1="222.3" y1="708.9" x2="222.3" y2="715.0" stroke="#888" stroke-width="1" opacity="0.6"/>
<rect x="211.5" y="740.5" width="12.0" height="3.7" fill="#7a5e2a"/>
<rect x="212.7" y="741.4" width="9.7" height="1.8" fill="#2a2418"/>
<rect x="200.6" y="739.8" width="2.3" height="4.1" fill="#777"/>
<rect x="201.4" y="745.9" width="3.9" height="0.8" fill="#888" opacity="0.6"/>
<rect x="211.1" y="745.9" width="7.8" height="0.8" fill="#888" opacity="0.6"/>
<text x="172.0" y="760.1" font-size="9.16" fill="#727272" textLength="72.3" lengthAdjust="spacingAndGlyphs" >HDM-PET120R</text>
<text x="196.0" y="768.4" font-size="8.87" fill="#727272" textLength="29.6" lengthAdjust="spacingAndGlyphs" >Sender</text>
<line x1="239.6" y1="736.6" x2="278.6" y2="736.6" stroke="#3cae16" stroke-width="2"/>
<text x="237.3" y="731.7" font-size="6.83" fill="#727272" textLength="43.7" lengthAdjust="spacingAndGlyphs" >Cat5/6 Cable</text>
<path d="M239.6,746.7 L263.2,746.7 L263.2,782.3 L90,782.3" stroke="#666666" stroke-width="1.8" fill="none" stroke-linejoin="miter"/>
<ellipse cx="84.5" cy="779.8" rx="7" ry="4" fill="url(#blobg)"/>
<text x="72.0" y="794.7" font-size="8.87" fill="#727272" textLength="23.9" lengthAdjust="spacingAndGlyphs" >IR TX</text>
<polygon points="288.2,724.0 352.6,724.0 362.9,734.9 285.3,734.9" fill="url(#swtop)"/>
<rect x="285.3" y="734.9" width="77.6" height="8.8" fill="url(#swfront)"/>
<rect x="299.3" y="736.8" width="41.9" height="4.6" fill="#e8e8e8"/>
<rect x="300.1" y="737.5" width="3.7" height="3.2" fill="#2a2a2a"/>
<rect x="305.3" y="737.5" width="3.7" height="3.2" fill="#2a2a2a"/>
<rect x="310.5" y="737.5" width="3.7" height="3.2" fill="#2a2a2a"/>
<rect x="315.8" y="737.5" width="3.7" height="3.2" fill="#2a2a2a"/>
<rect x="321.0" y="737.5" width="3.7" height="3.2" fill="#2a2a2a"/>
<rect x="326.2" y="737.5" width="3.7" height="3.2" fill="#2a2a2a"/>
<rect x="331.5" y="737.5" width="3.7" height="3.2" fill="#2a2a2a"/>
<rect x="336.7" y="737.5" width="3.7" height="3.2" fill="#2a2a2a"/>
<rect x="344.3" y="738.0" width="4.7" height="2.6" fill="#333"/>
<rect x="352.0" y="738.0" width="4.7" height="2.6" fill="#333"/>
<rect x="289.2" y="737.5" width="3.9" height="4.0" fill="#333"/>
<text x="308.7" y="756.0" font-size="9.01" fill="#727272" textLength="29.3" lengthAdjust="spacingAndGlyphs" >Switch</text>
<line x1="368.8" y1="736.4" x2="408.3" y2="736.4" stroke="#3cae16" stroke-width="2"/>
<text x="366.4" y="732.0" font-size="6.98" fill="#727272" textLength="44.0" lengthAdjust="spacingAndGlyphs" >Cat5/6 Cable</text>
<polygon points="417.1,724.0 480.0,724.0 490.4,734.9 413.3,734.9" fill="url(#swtop)"/>
<rect x="413.3" y="734.9" width="77.1" height="8.8" fill="url(#swfront)"/>
<rect x="427.2" y="736.8" width="41.6" height="4.6" fill="#e8e8e8"/>
<rect x="428.0" y="737.5" width="3.6" height="3.2" fill="#2a2a2a"/>
<rect x="433.2" y="737.5" width="3.6" height="3.2" fill="#2a2a2a"/>
<rect x="438.4" y="737.5" width="3.6" height="3.2" fill="#2a2a2a"/>
<rect x="443.6" y="737.5" width="3.6" height="3.2" fill="#2a2a2a"/>
<rect x="448.8" y="737.5" width="3.6" height="3.2" fill="#2a2a2a"/>
<rect x="454.0" y="737.5" width="3.6" height="3.2" fill="#2a2a2a"/>
<rect x="459.2" y="737.5" width="3.6" height="3.2" fill="#2a2a2a"/>
<rect x="464.4" y="737.5" width="3.6" height="3.2" fill="#2a2a2a"/>
<rect x="471.9" y="738.0" width="4.6" height="2.6" fill="#333"/>
<rect x="479.6" y="738.0" width="4.6" height="2.6" fill="#333"/>
<rect x="417.2" y="737.5" width="3.9" height="4.0" fill="#333"/>
<text x="436.7" y="756.0" font-size="9.01" fill="#727272" textLength="28.7" lengthAdjust="spacingAndGlyphs" >Switch</text>
<line x1="494.9" y1="736.5" x2="534" y2="736.5" stroke="#3cae16" stroke-width="2" stroke-dasharray="2.4,2.4"/>
<text x="491.9" y="732.1" font-size="7.27" fill="#727272" textLength="43.4" lengthAdjust="spacingAndGlyphs" >Cat5/6 Cable</text>
<polygon points="546.1,703.7 579.0,704.1 583.8,732.4 583.8,748.5 542.6,748.5 542.6,732.4" fill="#262626" />
<polygon points="546.1,703.7 579.0,704.1 583.8,732.4 542.6,732.4" fill="#2f2f2f" />
<polygon points="542.6,732.7 583.8,732.7 583.8,748.5 542.6,748.5" fill="#1f1f1f" />
<line x1="542.6" y1="732.4" x2="583.8" y2="732.4" stroke="#4a4a4a" stroke-width="0.6"/>
<line x1="551.0" y1="707.1" x2="550.0" y2="729.5" stroke="#8a8a8a" stroke-width="1.1" opacity="0.7"/>
<line x1="554.0" y1="707.1" x2="553.3" y2="729.5" stroke="#8a8a8a" stroke-width="1.1" opacity="0.7"/>
<line x1="575.7" y1="706.0" x2="575.7" y2="712.3" stroke="#888" stroke-width="1" opacity="0.6"/>
<rect x="556.2" y="736.9" width="12.4" height="10.0" fill="#b9b9b0"/>
<rect x="557.8" y="738.8" width="9.1" height="6.8" fill="#1a1a1a"/>
<rect x="546.7" y="746.9" width="4.9" height="0.8" fill="#888" opacity="0.6"/>
<rect x="571.4" y="746.1" width="6.6" height="0.8" fill="#888" opacity="0.6"/>
<text x="525.5" y="760.2" font-size="8.72" fill="#727272" textLength="72.0" lengthAdjust="spacingAndGlyphs" >HDM-PET120R</text>
<text x="545.2" y="769.0" font-size="8.58" fill="#727272" textLength="35.9" lengthAdjust="spacingAndGlyphs" >Receiver</text>
<line x1="589.6" y1="736.1" x2="667.0" y2="736.1" stroke="#2b2b2b" stroke-width="2"/>
<text x="604.4" y="731.5" font-size="7.99" fill="#727272" textLength="44.0" lengthAdjust="spacingAndGlyphs" >HDMI Cable</text>
<rect x="675.7" y="711.2" width="65.1" height="39.7" fill="url(#tvframe)" rx="0.6"/>
<rect x="678.1" y="713.3" width="60.3" height="34.3" fill="#121212"/>
<rect x="676.7" y="749.8" width="63.1" height="0.7" fill="#555" opacity="0.7"/>
<rect x="705.8" y="750.4" width="4.9" height="5.2" fill="#3a3a3a"/>
<ellipse cx="708.5" cy="754.7" rx="20.5" ry="1.4" fill="url(#tvbase)"/>
<rect x="705.8" y="750.4" width="4.9" height="3.9" fill="#3a3a3a"/>
<rect x="707.0" y="751.5" width="2.4" height="2.1" fill="#777"/>
<text x="689.4" y="767.8" font-size="8.43" fill="#727272" textLength="42.2" lengthAdjust="spacingAndGlyphs" >Full HDTV</text>
<path d="M533.4,747.3 L508.7,747.3 L508.7,784.4 L680,784.4" stroke="#666666" stroke-width="1.8" fill="none" stroke-linejoin="miter"/>
<ellipse cx="686.7" cy="781.3" rx="7" ry="4" fill="url(#blobg)"/>
<text x="673.0" y="798.0" font-size="8.58" fill="#727272" textLength="25.1" lengthAdjust="spacingAndGlyphs" >IR RX</text>
<path d="M705.21,807.13 A21.8,21.8 0 0 1 734.26,783.61" stroke="#333" stroke-width="1.8" fill="none" stroke-linecap="round"/>
<path d="M711.32,806.00 A15.6,15.6 0 0 1 732.90,789.74" stroke="#333" stroke-width="1.8" fill="none" stroke-linecap="round"/>
<path d="M716.66,805.17 A10.2,10.2 0 0 1 731.59,795.09" stroke="#333" stroke-width="1.8" fill="none" stroke-linecap="round"/>
<g transform="translate(730.6,810.4) rotate(39.31)">
<path d="M0,-6.00 C14.1,-6.90 30.6,-5.60 47.0,-5.00 A5.00,5.00 0 0 1 47.0,5.00 C30.6,5.60 14.1,6.90 0,6.00 A6.00,6.00 0 0 1 0,-6.00 Z" fill="url(#remg)"/>
<circle cx="4.7" cy="1.0" r="1.5" fill="#2b5ae0"/>
<circle cx="-0.9" cy="-1.2" r="0.8" fill="#9a9a8a"/>
<circle cx="11.8" cy="0" r="2.2" fill="none" stroke="#4a4238" stroke-width="0.8"/>
<circle cx="18.8" cy="-2.0" r="0.6" fill="#7a7264" opacity="0.9"/>
<circle cx="18.8" cy="0.0" r="0.6" fill="#7a7264" opacity="0.9"/>
<circle cx="18.8" cy="2.0" r="0.6" fill="#7a7264" opacity="0.9"/>
<circle cx="21.4" cy="-2.0" r="0.6" fill="#7a7264" opacity="0.9"/>
<circle cx="21.4" cy="0.0" r="0.6" fill="#7a7264" opacity="0.9"/>
<circle cx="21.4" cy="2.0" r="0.6" fill="#7a7264" opacity="0.9"/>
<circle cx="24.0" cy="-2.0" r="0.6" fill="#7a7264" opacity="0.9"/>
<circle cx="24.0" cy="0.0" r="0.6" fill="#7a7264" opacity="0.9"/>
<circle cx="24.0" cy="2.0" r="0.6" fill="#7a7264" opacity="0.9"/>
<circle cx="26.6" cy="-2.0" r="0.6" fill="#7a7264" opacity="0.9"/>
<circle cx="26.6" cy="0.0" r="0.6" fill="#7a7264" opacity="0.9"/>
<circle cx="26.6" cy="2.0" r="0.6" fill="#7a7264" opacity="0.9"/>
<circle cx="29.2" cy="-2.0" r="0.6" fill="#7a7264" opacity="0.9"/>
<circle cx="29.2" cy="0.0" r="0.6" fill="#7a7264" opacity="0.9"/>
<circle cx="29.2" cy="2.0" r="0.6" fill="#7a7264" opacity="0.9"/>
<circle cx="31.8" cy="-2.0" r="0.6" fill="#7a7264" opacity="0.9"/>
<circle cx="31.8" cy="0.0" r="0.6" fill="#7a7264" opacity="0.9"/>
<circle cx="31.8" cy="2.0" r="0.6" fill="#7a7264" opacity="0.9"/>
<circle cx="34.3" cy="-2.0" r="0.6" fill="#7a7264" opacity="0.9"/>
<circle cx="34.3" cy="0.0" r="0.6" fill="#7a7264" opacity="0.9"/>
<circle cx="34.3" cy="2.0" r="0.6" fill="#7a7264" opacity="0.9"/>
<circle cx="36.9" cy="-2.0" r="0.6" fill="#7a7264" opacity="0.9"/>
<circle cx="36.9" cy="0.0" r="0.6" fill="#7a7264" opacity="0.9"/>
<circle cx="36.9" cy="2.0" r="0.6" fill="#7a7264" opacity="0.9"/>
<circle cx="39.5" cy="-2.0" r="0.6" fill="#7a7264" opacity="0.9"/>
<circle cx="39.5" cy="0.0" r="0.6" fill="#7a7264" opacity="0.9"/>
<circle cx="39.5" cy="2.0" r="0.6" fill="#7a7264" opacity="0.9"/>
<circle cx="42.1" cy="-2.0" r="0.6" fill="#7a7264" opacity="0.9"/>
<circle cx="42.1" cy="0.0" r="0.6" fill="#7a7264" opacity="0.9"/>
<circle cx="42.1" cy="2.0" r="0.6" fill="#7a7264" opacity="0.9"/>
<circle cx="43.7" cy="-1.6" r="0.8" fill="#aaa"/>
</g>
<text x="713.4" y="846.0" font-size="8.14" fill="#727272" textLength="23.4" lengthAdjust="spacingAndGlyphs" >DSTV</text>
<text x="693.9" y="855.9" font-size="8.28" fill="#727272" textLength="66.3" lengthAdjust="spacingAndGlyphs" >Remote Control</text>
</g></svg>
</body></html>
